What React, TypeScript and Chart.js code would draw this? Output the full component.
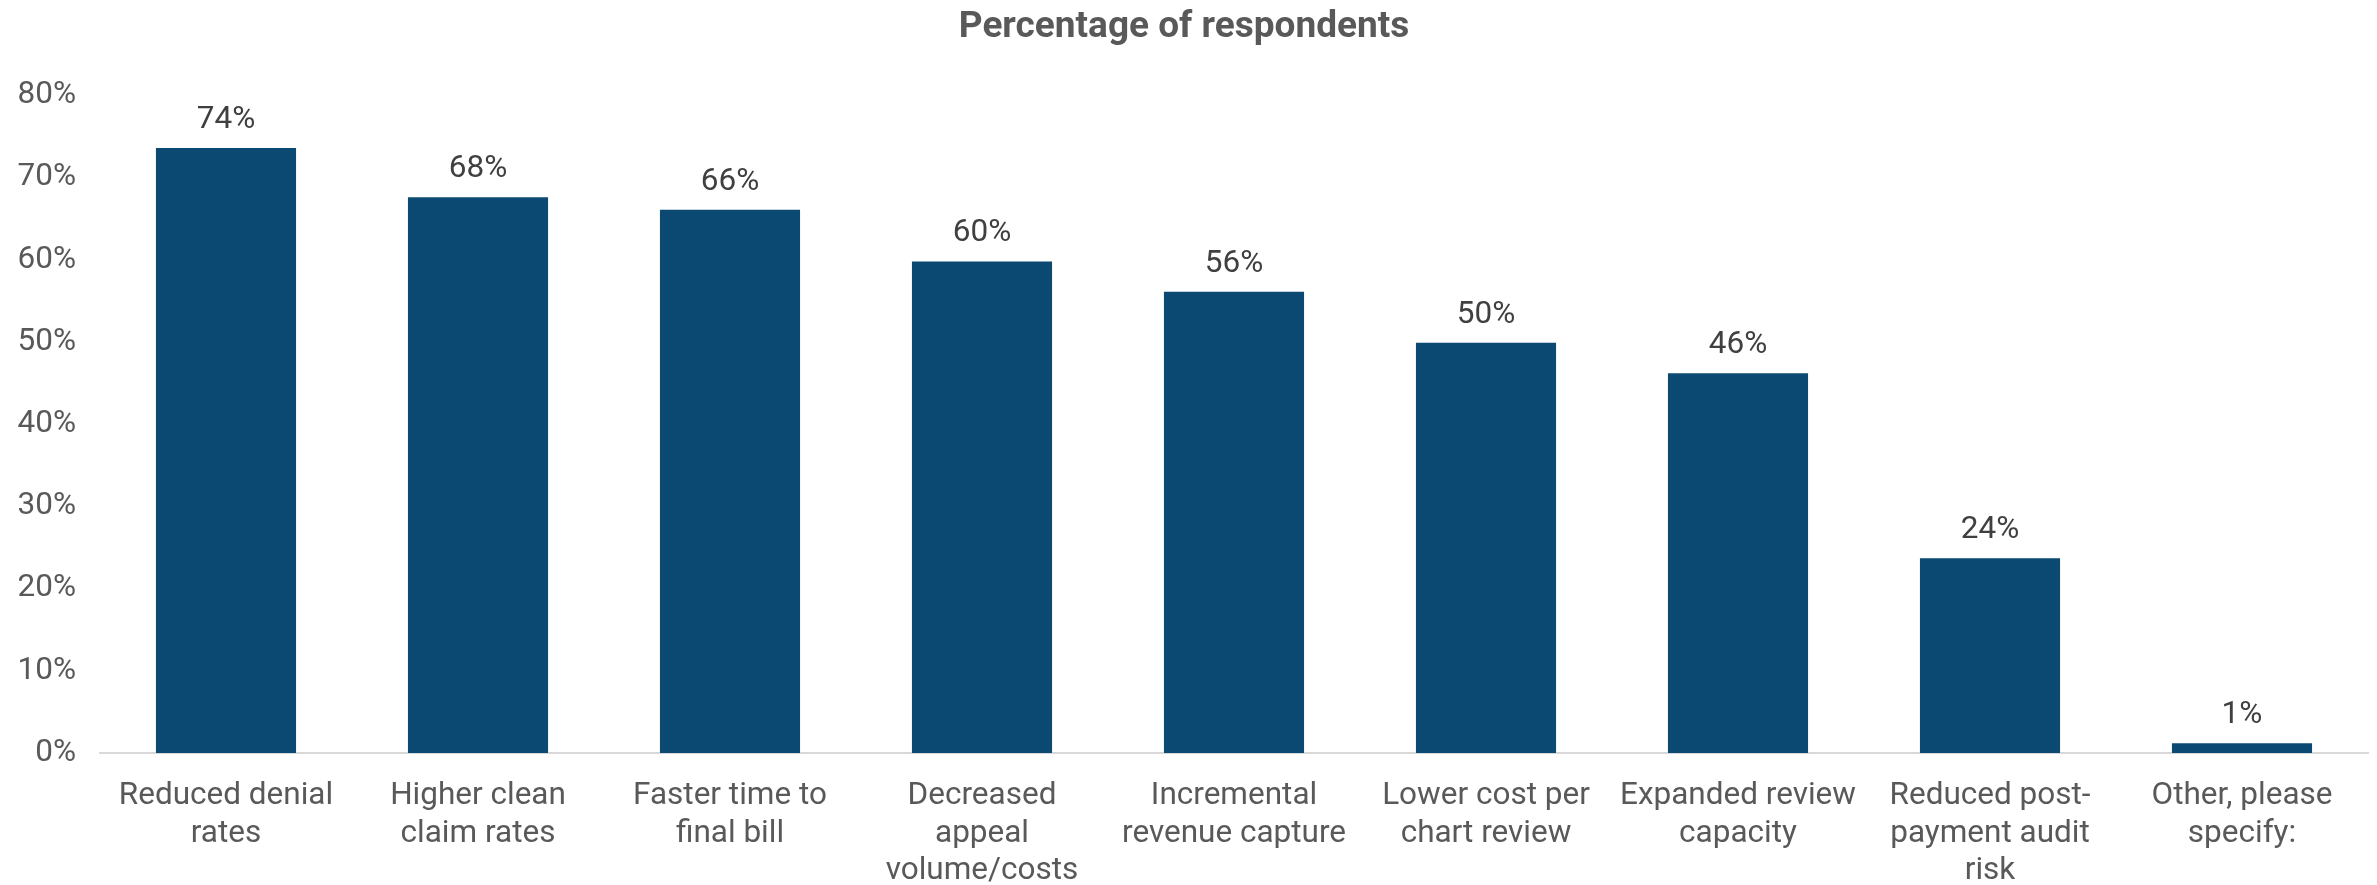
import React, { useEffect, useRef } from "react";
import { Chart, registerables } from "chart.js";

Chart.register(...registerables);

const chartTitle = "Percentage of respondents";
const categories: string[][] = [
  ["Reduced denial", "rates"],
  ["Higher clean", "claim rates"],
  ["Faster time to", "final bill"],
  ["Decreased", "appeal", "volume/costs"],
  ["Incremental", "revenue capture"],
  ["Lower cost per", "chart review"],
  ["Expanded review", "capacity"],
  ["Reduced post-", "payment audit", "risk"],
  ["Other, please", "specify:"],
];
const values: number[] = [73.6, 67.6, 66.1, 59.8, 56.1, 49.9, 46.2, 23.7, 1.2];
const yTicks: number[] = [0, 10, 20, 30, 40, 50, 60, 70, 80];

const FONT = "Roboto, 'Noto Sans', sans-serif";
const TEXT_SIZE = 31.5;

const dataLabelPlugin = {
  id: "dataLabels",
  afterDatasetsDraw(chart: any) {
    const ctx = chart.ctx;
    const meta = chart.getDatasetMeta(0);
    ctx.save();
    ctx.font = `${TEXT_SIZE}px ${FONT}`;
    ctx.fillStyle = "#404040";
    ctx.textAlign = "center";
    ctx.textBaseline = "middle";
    meta.data.forEach((bar: any, i: number) => {
      const v = chart.data.datasets[0].data[i] as number;
      ctx.fillText(`${Math.round(v)}%`, bar.x, bar.y - 28);
    });
    ctx.restore();
  },
};

export default function App() {
  const ref = useRef<HTMLCanvasElement | null>(null);

  useEffect(() => {
    if (!ref.current) return;
    const chart = new Chart(ref.current, {
      type: "bar",
      data: {
        labels: categories,
        datasets: [
          {
            data: values,
            backgroundColor: "#0B4872",
            borderWidth: 0,
            categoryPercentage: 1,
            barPercentage: 0.556,
          },
        ],
      },
      options: {
        animation: false,
        responsive: true,
        maintainAspectRatio: false,
        layout: { padding: { left: 0, right: 9, top: 0, bottom: 0 } },
        plugins: {
          legend: { display: false },
          tooltip: { enabled: false },
          title: {
            display: true,
            text: chartTitle,
            color: "#595959",
            font: { family: FONT, size: 37, weight: "bold" },
            padding: { top: 6, bottom: 45 },
          },
        },
        scales: {
          x: {
            grid: { display: false, drawTicks: false },
            border: { display: true, color: "#d9d9d9", width: 2 },
            afterFit: (scale: any) => {
              scale.height = 132;
            },
            ticks: {
              color: "#595959",
              font: { family: FONT, size: TEXT_SIZE },
              padding: 24,
              maxRotation: 0,
              autoSkip: false,
            },
          },
          y: {
            min: 0,
            max: 80,
            afterBuildTicks: (axis: any) => {
              axis.ticks = yTicks.map((v) => ({ value: v }));
            },
            afterFit: (scale: any) => {
              scale.width = 100;
            },
            grid: { display: false, drawTicks: false },
            border: { display: false },
            ticks: {
              color: "#595959",
              font: { family: FONT, size: TEXT_SIZE },
              padding: 24,
              callback: (v: any) => `${v}%`,
            },
          },
        },
      },
      plugins: [dataLabelPlugin],
    });
    return () => chart.destroy();
  }, []);

  return (
    <div style={{ position: "fixed", left: 0, top: 0, width: 2377, height: 885, background: "#fff" }}>
      <canvas ref={ref} />
    </div>
  );
}
